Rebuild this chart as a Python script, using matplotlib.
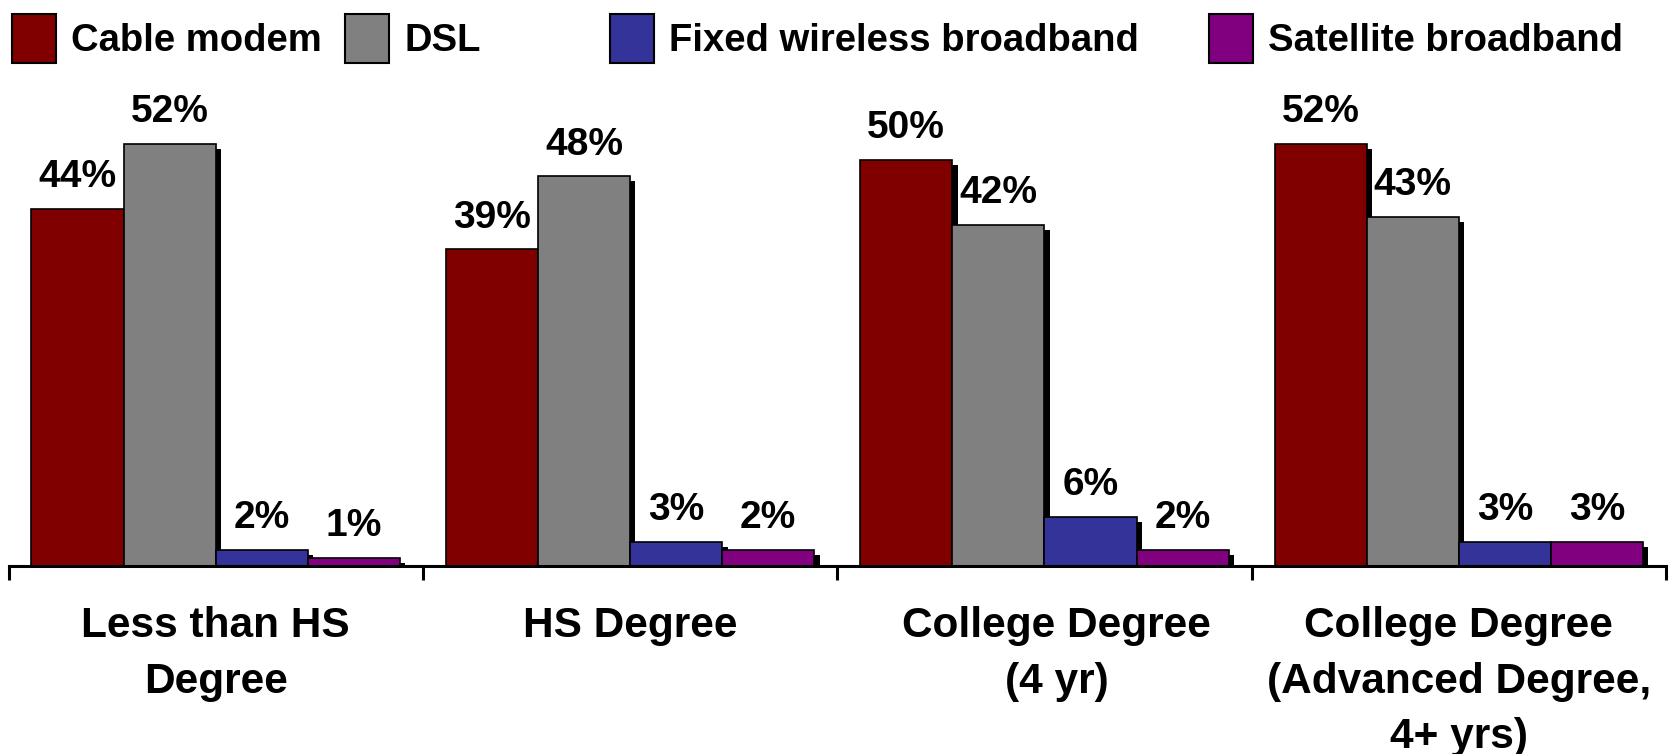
import numpy as np
import matplotlib.pyplot as plt
import matplotlib.transforms as mtransforms
from matplotlib.patches import Patch

plt.rcParams['font.family'] = ['Liberation Sans', 'DejaVu Sans']
plt.rcParams['font.weight'] = 'bold'

categories = ['Less than HS\nDegree', 'HS Degree', 'College Degree\n(4 yr)',
              'College Degree\n(Advanced Degree,\n4+ yrs)']
series_names = ['Cable modem', 'DSL', 'Fixed wireless broadband', 'Satellite broadband']
cable = [44, 39, 50, 52]
dsl = [52, 48, 42, 43]
fixed_wireless = [2, 3, 6, 3]
satellite = [1, 2, 2, 3]
colors = ['#800000', '#808080', '#333399', '#800080']

series = [cable, dsl, fixed_wireless, satellite]

fig = plt.figure(figsize=(16.71, 7.54), dpi=100)
ax = fig.add_axes([8.5 / 1671, 1 - 566 / 754, (1666 - 8.5) / 1671, (566 - 79) / 754])

x = np.arange(len(categories))
w = 0.889 / 4
offs = (np.arange(4) - 1.5) * w
shadow_dx = 0.013
shadow_dy = 0.6

# drop shadows behind the bars
for k, vals in enumerate(series):
    vals = np.array(vals, dtype=float)
    ax.bar(x + offs[k] + shadow_dx, vals - shadow_dy, w, color='black', zorder=1)

for k, vals in enumerate(series):
    bars = ax.bar(x + offs[k], vals, w, color=colors[k], edgecolor='black',
                  linewidth=1.2, zorder=2)
    for b, v in zip(bars, vals):
        ax.annotate(f'{v}%', (b.get_x() + b.get_width() / 2, v),
                    xytext=(0, 10), textcoords='offset points',
                    ha='center', va='bottom', fontsize=28, fontweight='bold')

ax.set_xlim(-0.5, len(categories) - 0.5)
ax.set_ylim(0, 60)
ax.set_yticks([])
for s in ['left', 'right', 'top']:
    ax.spines[s].set_visible(False)
ax.spines['bottom'].set_linewidth(2.2)
ax.spines['bottom'].set_zorder(3)

ax.set_xticks(x)
ax.set_xticklabels(categories, fontsize=30.5, fontweight='bold', linespacing=1.5)
ax.tick_params(axis='x', which='major', length=0, pad=29)
ax.set_xticks(np.arange(len(categories) + 1) - 0.5, minor=True)
ax.tick_params(axis='x', which='minor', length=10, width=2.2, direction='out')

# third label sits a little right of its group centre in the original
lbl = ax.get_xticklabels()[2]
lbl.set_transform(lbl.get_transform() +
                  mtransforms.ScaledTranslation(12 / 100, 0, fig.dpi_scale_trans))

# legend entries are spaced unevenly in the original, so one small legend each
legend_x = [12, 345, 610, 1209]
for c, name, lx in zip(colors, series_names, legend_x):
    leg = fig.legend([Patch(facecolor=c, edgecolor='black', linewidth=1.5)], [name],
                     loc='upper left', bbox_to_anchor=(lx / 1671, 1 - 14 / 754),
                     frameon=False, prop={'weight': 'bold', 'size': 27.5},
                     handlelength=1.15, handleheight=1.6, handletextpad=0.4,
                     borderaxespad=0, borderpad=0)

fig.savefig('out.png', dpi=100)
